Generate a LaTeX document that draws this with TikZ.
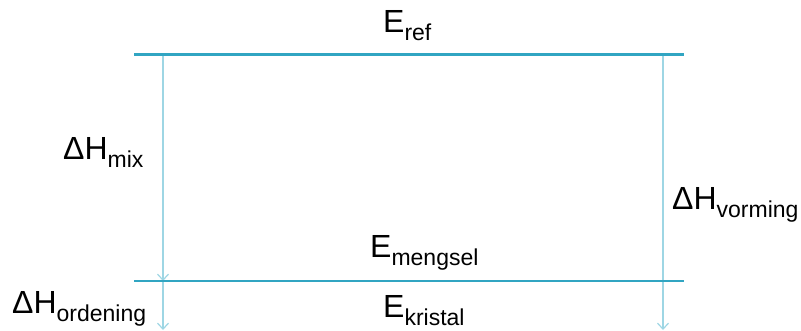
\documentclass[tikz,border=0pt]{standalone}
\usepackage{fontspec}
\setmainfont{Liberation Sans}
\usetikzlibrary{arrows.meta}
\definecolor{levelblue}{HTML}{31A5C2}
\definecolor{arrowblue}{HTML}{9ED6E4}
% energy symbol with a lowered subscript
\newcommand{\energylabel}[2]{#1\raisebox{-8pt}{\fontsize{23}{23}\selectfont #2}}
\tikzset{
  levelline/.style={draw=levelblue, line width=#1},
  transition/.style={draw=arrowblue, line width=1.4pt,
    -{Straight Barb[length=6pt,width=11pt,line width=1.2pt]}},
  tag/.style={anchor=base west, inner sep=0pt, font=\fontsize{32}{32}\selectfont}
}
\begin{document}
\begin{tikzpicture}[x=1pt, y=-1pt]
  \useasboundingbox (0,0) rectangle (801,331);
  % level end points
  \coordinate (refL) at (134,55);
  \coordinate (refR) at (684,55);
  \coordinate (mixL) at (134,281);
  \coordinate (mixR) at (684,281);
  % transition end points
  \coordinate (mixTop) at (163,55);
  \coordinate (mixTip) at (163,281);
  \coordinate (ordTip) at (163,330);
  \coordinate (vorTop) at (663,55);
  \coordinate (vorTip) at (663,330);

  % transitions
  \draw[transition] (mixTop) -- (mixTip);
  \draw[transition] (mixTip) -- (ordTip);
  \draw[transition] (vorTop) -- (vorTip);

  % energy levels
  \draw[levelline=3pt] (refL) -- (refR);
  \draw[levelline=1.8pt] (mixL) -- (mixR);

  % labels
  \node[tag] (Eref) at (383,33) {\energylabel{E}{ref}};
  \node[tag] (Emengsel) at (370,258) {\energylabel{E}{mengsel}};
  \node[tag] (Ekristal) at (383,317) {\energylabel{E}{kristal}};
  \node[tag] (Hmix) at (63,160) {\energylabel{ΔH}{mix}};
  \node[tag] (Hvorming) at (672,210) {\energylabel{ΔH}{vorming}};
  \node[tag] (Hordening) at (12,313) {\energylabel{ΔH}{ordening}};
\end{tikzpicture}
\end{document}
